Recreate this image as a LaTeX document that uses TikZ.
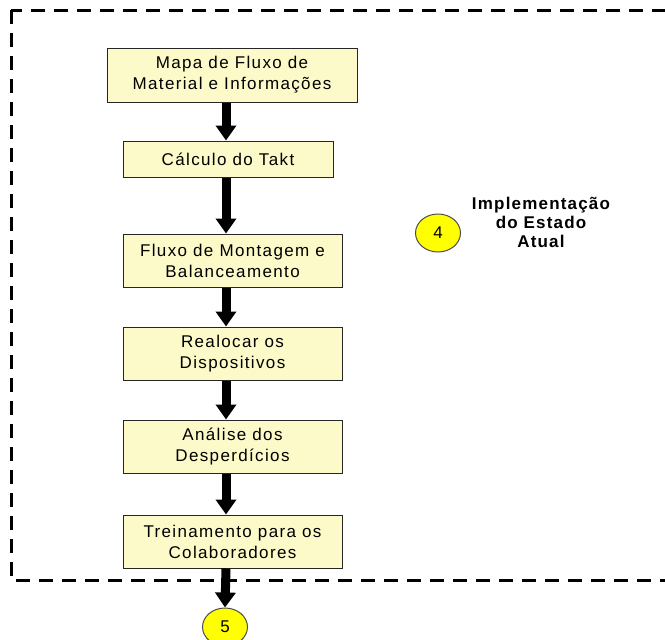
\documentclass[tikz,border=0pt]{standalone}
\usepackage{fontspec}
\setmainfont{Liberation Sans}
\newfontfamily\boxfont[LetterSpace=8]{Liberation Sans}
\newfontfamily\titlefont[LetterSpace=7]{Liberation Sans}
\usetikzlibrary{arrows.meta,shapes.geometric}
\definecolor{boxfill}{RGB}{252,250,200}
\definecolor{discfill}{RGB}{255,255,0}
\begin{document}
\begin{tikzpicture}[x=1pt,y=-1pt,
  stepbox/.style={draw=black!85, line width=1pt, fill=boxfill, align=center,
    inner sep=0pt, minimum width=219pt, minimum height=53pt,
    font=\boxfont\fontsize{17}{21}\selectfont},
  flow/.style={line width=9pt, -{Triangle[width=20pt,length=15pt]}, black},
  disc/.style={ellipse, draw=black!70, line width=1pt, fill=discfill,
    minimum width=45pt, minimum height=38pt, inner sep=0pt,
    font=\boxfont\fontsize{17}{21}\selectfont},
  frame/.style={line width=3pt, dash pattern=on 14pt off 9pt}
]
\useasboundingbox (0,0) rectangle (665,640);
\clip (0,0) rectangle (665,640);

% dashed boundary of the stage
\draw[frame] (11,10) rectangle (700,580);

% process steps
\node[stepbox, minimum width=250pt, minimum height=54pt] (b1) at (232,75)
  {Mapa de Fluxo de\\Material e Informações};
\node[stepbox, minimum width=210pt, minimum height=36pt] (b2) at (228,159)
  {Cálculo do Takt};
\node[stepbox] (b3) at (232.5,260.5) {Fluxo de Montagem e\\Balanceamento};
\node[stepbox] (b4) at (232.5,353.5) {Realocar os\\Dispositivos};
\node[stepbox] (b5) at (232.5,446.5) {Análise dos\\Desperdícios};
\node[stepbox] (b6) at (232.5,541.5) {Treinamento para os\\Colaboradores};

% stage markers
\node[disc] (d4) at (438,233) {4};
\node[font=\titlefont\bfseries\fontsize{17}{19}\selectfont, align=center] (lbl)
  at (541,222) {Implementação\\do Estado\\Atual};
\node[disc] (d5) at (225,627) {5};

% connectors
\coordinate (ax) at (226,0);
\draw[flow] (b1.south -| ax) -- (b2.north -| ax);
\draw[flow] (b2.south -| ax) -- (b3.north -| ax);
\draw[flow] (b3.south -| ax) -- (b4.north -| ax);
\draw[flow] (b4.south -| ax) -- (b5.north -| ax);
\draw[flow] (b5.south -| ax) -- (b6.north -| ax);
\draw[flow] (b6.south -| ax) -- (d5.north);
\end{tikzpicture}
\end{document}
